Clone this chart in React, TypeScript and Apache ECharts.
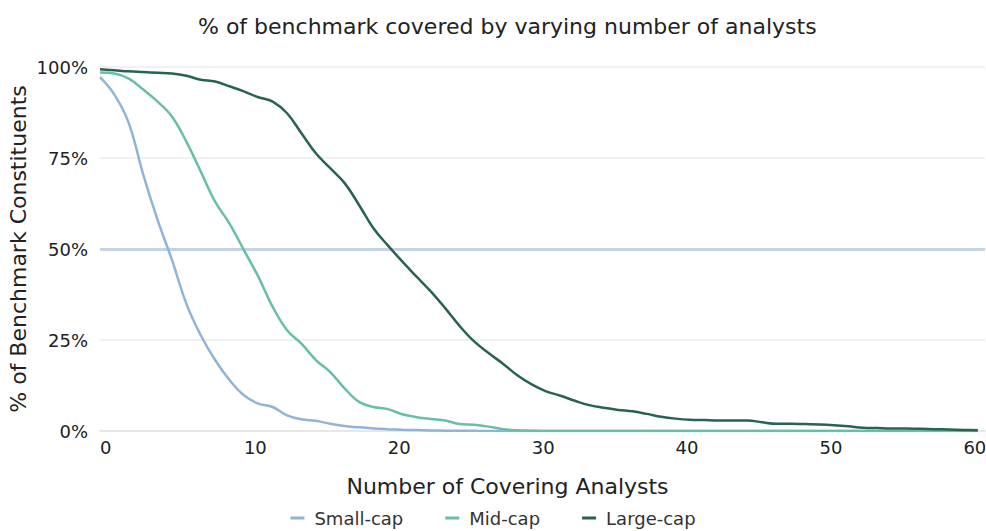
import React, { useEffect, useRef } from "react";
import * as echarts from "echarts";

const analysts = [
  0, 1, 2, 3, 4, 5, 6, 7, 8, 9,
  10, 11, 12, 13, 14, 15, 16, 17, 18, 19,
  20, 21, 22, 23, 24, 25, 26, 27, 28, 29,
  30, 31, 32, 33, 34, 35, 36, 37, 38, 39,
  40, 41, 42, 43, 44, 45, 46, 47, 48, 49,
  50, 51, 52, 53, 54, 55, 56, 57, 58, 59,
  60, 61,
];

const smallCap = [
  97.2, 92.4, 84.6, 70.5, 58, 47, 35, 26.3, 19.5, 14,
  9.8, 7.5, 6.6, 4.3, 3.2, 2.8, 2.0, 1.4, 1.0, 0.7,
  0.5, 0.35, 0.25, 0.15, 0.1, 0.05, 0.05, 0, 0, 0,
  0, 0, 0, 0, 0, 0, 0, 0, 0, 0,
  0, 0, 0, 0, 0, 0, 0, 0, 0, 0,
  0, 0, 0, 0, 0, 0, 0, 0, 0, 0,
  0, 0,
];

const midCap = [
  98.5, 98.2, 96.8, 93.8, 90.5, 86.4, 79.5, 71.3, 63, 57,
  49.7, 42.4, 34.1, 27.7, 24, 19.5, 16.2, 11.7, 8, 6.6,
  6, 4.6, 3.8, 3.3, 2.9, 1.9, 1.7, 1.2, 0.5, 0.2,
  0.1, 0, 0, 0, 0, 0, 0, 0, 0, 0,
  0, 0, 0, 0, 0, 0, 0, 0, 0, 0,
  0, 0, 0, 0, 0, 0, 0, 0, 0, 0,
  0, 0,
];

const largeCap = [
  99.4, 99.1, 98.8, 98.6, 98.4, 98.2, 97.6, 96.5, 96, 94.7,
  93.3, 91.7, 90.5, 87.3, 81.8, 76.3, 72.2, 68.1, 62.1, 55.7,
  51, 46.6, 42.4, 38.3, 33.7, 28.8, 24.6, 21.4, 18.5, 15.3,
  12.8, 10.9, 9.7, 8.3, 7.1, 6.4, 5.8, 5.4, 4.7, 3.9,
  3.4, 3.1, 3.0, 2.9, 2.9, 2.9, 2.4, 2.0, 2.0, 1.9,
  1.8, 1.6, 1.3, 0.9, 0.8, 0.7, 0.7, 0.6, 0.5, 0.4,
  0.3, 0.2,
];

const seriesNames = ["Small-cap", "Mid-cap", "Large-cap"];
const threshold = 50;

const FONT = "'DejaVu Sans', Inter, sans-serif";

export default function App() {
  const ref = useRef<HTMLDivElement>(null);

  useEffect(() => {
    if (!ref.current) return;
    const chart = echarts.init(ref.current, null, { renderer: "svg" });
    const pairs = (vals: number[]) => analysts.map((a, i) => [a, vals[i]]);
    const colors = ["#8fb3d9", "#66bfa6", "#276354"];
    const values = [smallCap, midCap, largeCap];

    chart.setOption({
      animation: false,
      textStyle: { fontFamily: FONT },
      title: {
        text: "% of benchmark covered by varying number of analysts",
        left: 193,
        top: 10,
        textStyle: { fontFamily: FONT, fontSize: 22, fontWeight: "normal", color: "#222" },
      },
      legend: {
        data: seriesNames,
        bottom: -1,
        left: "center",
        icon: "rect",
        itemWidth: 14,
        itemHeight: 3,
        itemGap: 42,
        textStyle: { fontFamily: FONT, fontSize: 18, color: "#333", padding: [0, 0, 0, 5] },
      },
      grid: {
        left: 100,
        right: 1,
        top: 67,
        bottom: 100,
        containLabel: false,
        outerBoundsMode: "none",
      },
      xAxis: {
        type: "value",
        min: 0,
        max: 61.5,
        interval: 10,
        name: "Number of Covering Analysts",
        nameLocation: "middle",
        nameGap: 44,
        nameTextStyle: {
          fontFamily: FONT,
          fontSize: 22,
          color: "#222",
          padding: [0, 70, 0, 0],
        },
        axisLine: { show: true, lineStyle: { color: "#e3e3e3", width: 1.5 } },
        axisTick: { show: false },
        splitLine: { show: false },
        axisLabel: {
          align: "left",
          showMaxLabel: false,
          fontSize: 18,
          color: "#222",
          margin: 7,
          fontFamily: FONT,
        },
      },
      yAxis: {
        type: "value",
        min: 0,
        max: 100,
        interval: 25,
        name: "% of Benchmark Constituents",
        nameLocation: "middle",
        nameGap: 71,
        nameMoveOverlap: false,
        nameTextStyle: { fontFamily: FONT, fontSize: 22, color: "#222" },
        axisLine: { show: false },
        axisTick: { show: false },
        splitLine: { show: true, lineStyle: { color: "#ececec", width: 1.5 } },
        axisLabel: {
          formatter: "{value}%",
          fontSize: 18,
          color: "#222",
          margin: 12,
          fontFamily: FONT,
        },
      },
      series: values.map((vals, i) => ({
        name: seriesNames[i],
        type: "line",
        data: pairs(vals),
        smooth: 0.4,
        showSymbol: false,
        symbol: "none",
        lineStyle: { color: colors[i], width: 2.5 },
        itemStyle: { color: colors[i] },
        z: i === 0 ? 2 : 3 + i,
        markLine:
          i === 0
            ? {
                silent: true,
                symbol: "none",
                label: { show: false },
                lineStyle: { color: "#c5d3e3", width: 3, type: "solid" },
                data: [{ yAxis: threshold }],
                z: 1,
              }
            : undefined,
      })),
    });

    return () => chart.dispose();
  }, []);

  return (
    <div
      ref={ref}
      style={{ position: "absolute", left: 0, top: 0, width: 986, height: 531 }}
    />
  );
}
